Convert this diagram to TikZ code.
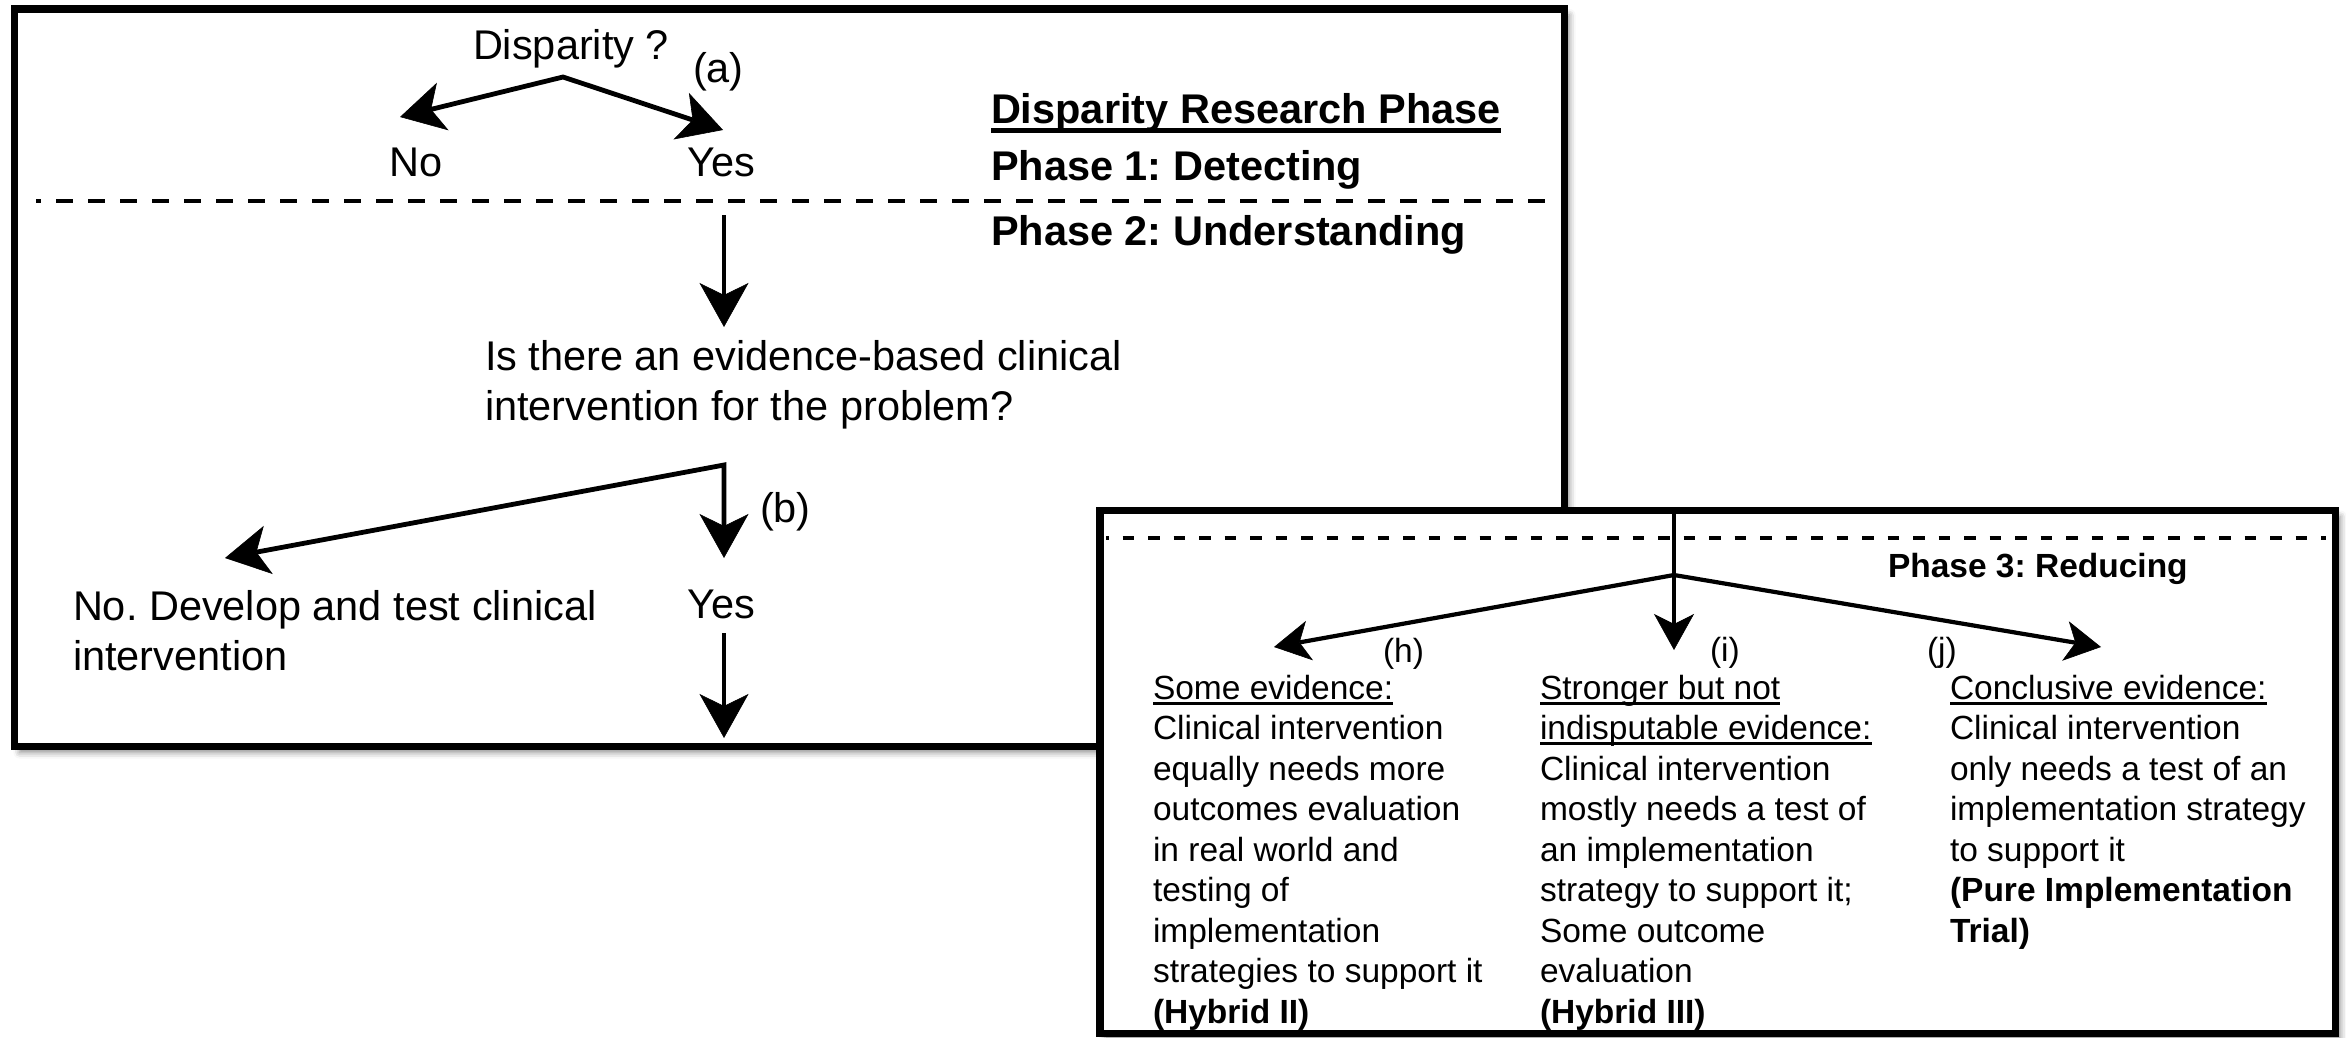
\documentclass[tikz,border=0pt]{standalone}
\usepackage{fontspec}
\setmainfont{Liberation Sans}
\usetikzlibrary{arrows.meta,shadows.blur}
% underlined text: #1 = depth of the rule below the baseline, #2 = rule thickness
\newlength\ulwd
\newcommand\ulined[3]{\settowidth\ulwd{#3}\rlap{\rule[-#1]{\ulwd}{#2}}#3}
\begin{document}
\frenchspacing
\begin{tikzpicture}[x=1pt,y=-1pt,
  txt/.style={font=\fontsize{41.5}{50}\selectfont, inner sep=0pt, outer sep=0pt, align=left},
  head/.style={font=\fontsize{41.5}{50}\selectfont\bfseries, inner sep=0pt, outer sep=0pt},
  small/.style={font=\fontsize{33.5}{40.5}\selectfont, inner sep=0pt, outer sep=0pt, align=left},
  frame/.style={draw=black, line width=7.5pt, fill=white,
    blur shadow={shadow xshift=5pt, shadow yshift=-6pt, shadow blur radius=6pt, shadow opacity=45}},
  conn/.style={draw=black, line width=4.8pt},
  connB/.style={draw=black, line width=4.2pt},
  bighead/.tip={Stealth[length=44pt,width=49pt,inset=12pt,line width=0.6pt,color=black,fill=black]},
  smallhead/.tip={Stealth[length=36pt,width=40pt,inset=10pt,line width=0.6pt,color=black,fill=black]},
  phaseline/.style={draw=black, line width=4.5pt, dash pattern=on 17pt off 15pt, dash phase=12pt},
  phaselineB/.style={draw=black, line width=4pt, dash pattern=on 11.5pt off 14pt, dash phase=9pt},
]
\useasboundingbox (0,0) rectangle (2346,1038);

% ---------- upper panel: detecting and understanding ----------
\draw[frame] (14.5,9) rectangle (1564.5,746.5);
\draw[phaseline] (36,201) -- (1558,201);

\node[txt, anchor=base west] (disp) at (473,60) {Disparity ?};
\node[txt, anchor=base west] (lbla) at (693,83) {(a)};
\node[txt, anchor=base] (no1) at (416,177) {No};
\node[txt, anchor=base] (yes1) at (721,177) {Yes};

\node[head, anchor=base west] (title) at (991,124) {\ulined{8.7pt}{4.4pt}{Disparity Research Phase}};
\node[head, anchor=base west] (ph1) at (991,181) {Phase 1: Detecting};
\node[head, anchor=base west] (ph2) at (991,245) {Phase 2: Understanding};

\coordinate (apexA) at (563,77);
\coordinate (tipNo) at (400,117);
\coordinate (tipYes) at (723,130);
\draw[conn, bighead-bighead, line join=miter] (tipNo) -- (apexA) -- (tipYes);

\coordinate (q1top) at (724,215);
\coordinate (q1tip) at (724,327);
\draw[conn, -bighead] (q1top) -- (q1tip);

% multi-line nodes are placed by the baseline of their last line
\node[txt, anchor=base west] (quest) at (485,420)
  {Is there an evidence-based clinical\\intervention for the problem?};

\coordinate (apexB) at (724,465);
\coordinate (tipDev) at (225,558);
\coordinate (tipYes2) at (724,558);
\draw[conn, bighead-bighead, line join=miter] (tipDev) -- (apexB) -- (tipYes2);
\node[txt, anchor=base west] (lblb) at (760,522) {(b)};

\node[txt, anchor=base west] (develop) at (73,670)
  {No. Develop and test clinical\\intervention};
\node[txt, anchor=base] (yes2) at (721,618) {Yes};

\coordinate (q2top) at (724,633);
\coordinate (q2tip) at (724,738);
\draw[conn, -bighead] (q2top) -- (q2tip);

% ---------- lower panel: reducing ----------
\draw[frame] (1100,510.5) rectangle (2335.5,1033.5);
\draw[phaselineB] (1106,538) -- (2326,538);

\node[head, font=\fontsize{33.5}{40.5}\selectfont\bfseries, anchor=base west] (ph3) at (1888,577) {Phase 3: Reducing};

\coordinate (stem) at (1674,514);
\coordinate (apexC) at (1674,575);
\coordinate (tipI) at (1674,650);
\coordinate (tipH) at (1274,647);
\coordinate (tipJ) at (2101,647);
\draw[connB, smallhead-smallhead, line join=miter] (tipH) -- (apexC) -- (tipJ);
\draw[connB, -smallhead] (stem) -- (tipI);

\node[small, anchor=base west] (lblh) at (1383,662) {(h)};
\node[small, anchor=base west] (lbli) at (1710,661) {(i)};
\node[small, anchor=base west] (lblj) at (1927,661) {(j)};

\node[small, anchor=base west] (colh) at (1153,1023)
  {\ulined{5.5pt}{2.6pt}{Some evidence:}\\
   Clinical intervention\\
   equally needs more\\
   outcomes evaluation\\
   in real world and\\
   testing of\\
   implementation\\
   strategies to support it\\
   \textbf{(Hybrid II)}};

\node[small, anchor=base west] (coli) at (1540,1023)
  {\ulined{5.5pt}{2.6pt}{Stronger but not}\\
   \ulined{5.5pt}{2.6pt}{indisputable evidence:}\\
   Clinical intervention\\
   mostly needs a test of\\
   an implementation\\
   strategy to support it;\\
   Some outcome\\
   evaluation\\
   \textbf{(Hybrid III)}};

\node[small, anchor=base west] (colj) at (1950,942)
  {\ulined{5.5pt}{2.6pt}{Conclusive evidence:}\\
   Clinical intervention\\
   only needs a test of an\\
   implementation strategy\\
   to support it\\
   \textbf{(Pure Implementation}\\
   \textbf{Trial)}};
\end{tikzpicture}
\end{document}
